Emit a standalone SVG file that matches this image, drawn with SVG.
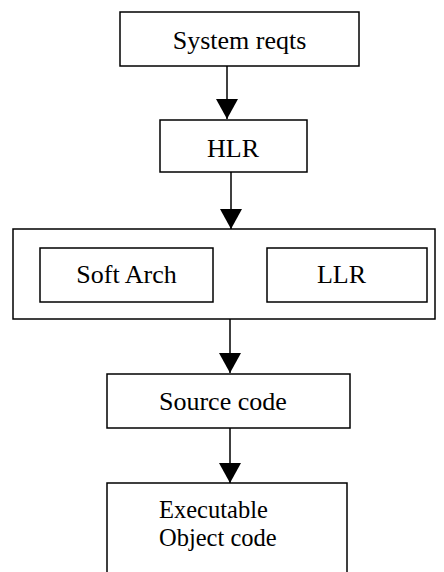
<svg xmlns="http://www.w3.org/2000/svg" width="444" height="572" viewBox="0 0 444 572">
<style>
.box{fill:#fff;stroke:#000;stroke-width:1.5}
.lbl{font-family:"Liberation Serif","Times New Roman",serif;font-size:26px;fill:#000}
.sm{font-size:24.5px}
.c{text-anchor:middle}
.conn line{stroke:#000;stroke-width:1.5;marker-end:url(#ah)}
</style>
<defs>
<marker id="ah" markerUnits="userSpaceOnUse" markerWidth="20" markerHeight="22" refX="20" refY="11" orient="auto" viewBox="0 0 20 22">
<path d="M0,0 L20,11 L0,22 z" fill="#000"/>
</marker>
</defs>
<rect width="444" height="572" fill="#fff"/>
<g id="system-reqts"><rect class="box" x="120" y="12" width="239" height="54"/><text class="lbl c" x="239.5" y="49">System reqts</text></g>
<g id="hlr"><rect class="box" x="160" y="120" width="147" height="52"/><text class="lbl c" x="233" y="157">HLR</text></g>
<g id="design-group"><rect class="box" x="13" y="229" width="422" height="90"/></g>
<g id="soft-arch"><rect class="box" x="40" y="248" width="173" height="54"/><text class="lbl c" x="126.5" y="283">Soft Arch</text></g>
<g id="llr"><rect class="box" x="267" y="248" width="160" height="54"/><text class="lbl c" x="341.5" y="283">LLR</text></g>
<g id="source-code"><rect class="box" x="107" y="374" width="243" height="54"/><text class="lbl" x="159" y="410">Source code</text></g>
<g id="executable"><rect class="box" x="107" y="483" width="240" height="100"/><text class="lbl sm" x="159" y="518">Executable</text><text class="lbl sm" x="159" y="546">Object code</text></g>
<g id="connectors" class="conn">
<line x1="227" y1="66" x2="227" y2="119"/>
<line x1="231" y1="172" x2="231" y2="229"/>
<line x1="230" y1="319" x2="230" y2="373"/>
<line x1="230" y1="428" x2="230" y2="483"/>
</g>
</svg>
